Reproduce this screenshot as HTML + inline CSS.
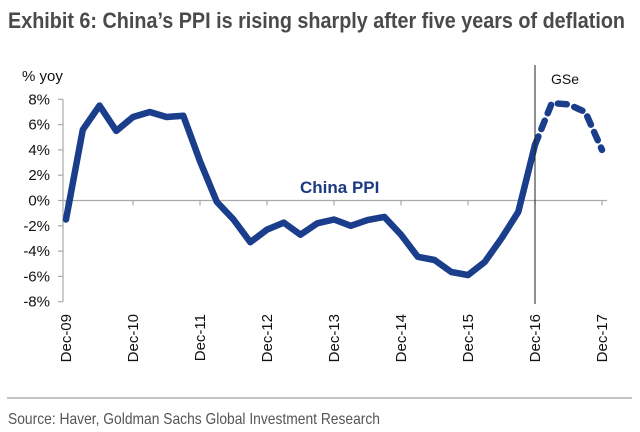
<!DOCTYPE html>
<html><head><meta charset="utf-8"><style>
html,body{margin:0;padding:0;background:#fff;}
svg{display:block;font-family:"Liberation Sans",sans-serif;}
</style></head><body>
<svg id="chart" width="640" height="432" viewBox="0 0 640 432">
<text x="8" y="28" font-size="22" font-weight="bold" fill="#4a4a4a" textLength="617" lengthAdjust="spacingAndGlyphs">Exhibit 6: China’s PPI is rising sharply after five years of deflation</text>
<text x="22" y="81" font-size="15" fill="#111">% yoy</text>
<g id="axes"></g>
<g id="series"></g>
<line x1="535" y1="65" x2="535" y2="304" stroke="#222" stroke-width="1"/>
<text x="551" y="84" font-size="14" fill="#111">GSe</text>
<text x="300" y="193" font-size="17" font-weight="bold" fill="#1b3a80">China PPI</text>
<line x1="7" y1="398" x2="632" y2="398" stroke="#888" stroke-width="1"/>
<text x="8" y="424" font-size="16" fill="#555" textLength="372" lengthAdjust="spacingAndGlyphs">Source: Haver, Goldman Sachs Global Investment Research</text>
</svg>
<script>
const actualValues = [-1.5,5.6,7.5,5.5,6.6,7.0,6.6,6.7,3.1,-0.1,-1.5,-3.3,-2.3,-1.75,-2.7,-1.8,-1.5,-2.0,-1.55,-1.3,-2.7,-4.45,-4.7,-5.65,-5.9,-4.85,-3.0,-0.9,4.4];
const forecastValues = [4.4,7.7,7.6,7.0,4.0];
const yTicks = [8,6,4,2,0,-2,-4,-6,-8];
const xLabels = ["Dec-09","Dec-10","Dec-11","Dec-12","Dec-13","Dec-14","Dec-15","Dec-16","Dec-17"];
const NS="http://www.w3.org/2000/svg";
const x0=66, perQ=16.75;
function xq(i){return x0+i*perQ;}
function yv(v){return 200.5-v*12.65;}
const axes=document.getElementById('axes'), series=document.getElementById('series');
function mk(tag,attrs,parent){const e=document.createElementNS(NS,tag);for(const k in attrs)e.setAttribute(k,attrs[k]);parent.appendChild(e);return e;}
let yl=mk('line',{x1:63,y1:yv(8),x2:63,y2:yv(-8),stroke:'#aaa','stroke-width':1.2},axes);


yTicks.forEach(t=>{
 const tk=mk('line',{x1:58,x2:63,y1:yv(t),y2:yv(t),stroke:'#aaa','stroke-width':1.2},axes);
 
 
 const tx=mk('text',{x:50,y:yv(t)+5,'font-size':15,'text-anchor':'end',fill:'#111'},axes);
 tx.textContent=t+'%';
 
 
});
let xl=mk('line',{x1:63,y1:yv(0),x2:607,y2:yv(0),stroke:'#aaa','stroke-width':1.2},axes);


xLabels.forEach((l,i)=>{
 const x=xq(i*4);
 const tk=mk('line',{x1:x,x2:x,y1:yv(0),y2:yv(0)+5,stroke:'#aaa','stroke-width':1.2},axes);
 
 
 const tx=mk('text',{x:0,y:0,'font-size':15,'text-anchor':'end',fill:'#111',transform:`translate(${x+5},314) rotate(-90)`},axes);
 tx.textContent=l;
 
 
});
const pa=actualValues.map((v,i)=>`${xq(i).toFixed(1)},${yv(v).toFixed(1)}`).join(' ');
const p1=mk('polyline',{points:pa,fill:'none',stroke:'#1a3d8c','stroke-width':6.5,'stroke-linejoin':'round','stroke-linecap':'round'},series);


const off=actualValues.length-1;
const pf=forecastValues.map((v,i)=>`${xq(off+i).toFixed(1)},${yv(v).toFixed(1)}`).join(' ');
const p2=mk('polyline',{points:pf,fill:'none',stroke:'#1a3d8c','stroke-width':6.5,'stroke-dasharray':'9 8','stroke-linejoin':'round','stroke-linecap':'round'},series);


</script>
</body></html>
